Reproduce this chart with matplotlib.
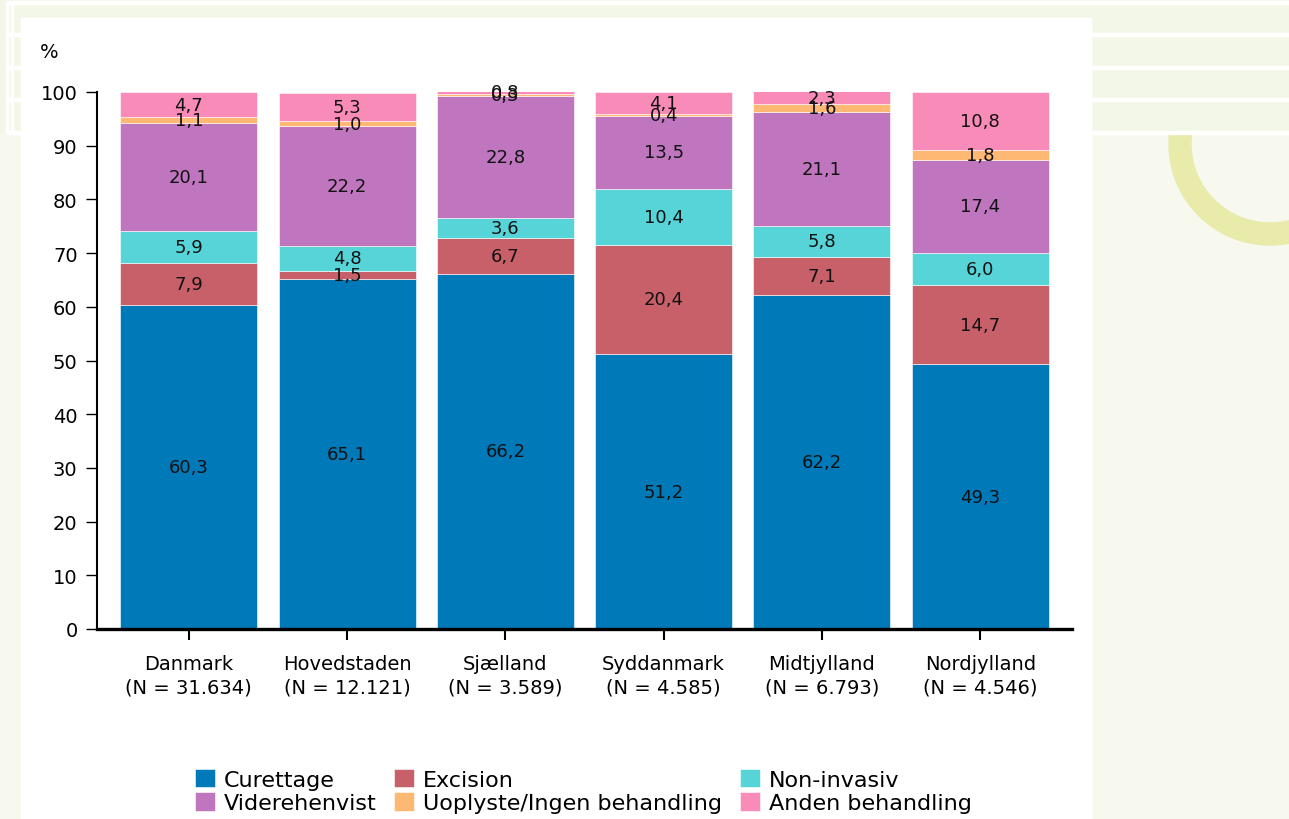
import matplotlib
matplotlib.use("Agg")
import matplotlib.pyplot as plt
import matplotlib.transforms as mtransforms
from matplotlib.patches import Rectangle, Wedge

W, H = 1289, 820

regions = ["Danmark\n(N = 31.634)", "Hovedstaden\n(N = 12.121)", "Sjælland\n(N = 3.589)",
           "Syddanmark\n(N = 4.585)", "Midtjylland\n(N = 6.793)", "Nordjylland\n(N = 4.546)"]

curettage = [60.3, 65.1, 66.2, 51.2, 62.2, 49.3]
excision = [7.9, 1.5, 6.7, 20.4, 7.1, 14.7]
non_invasiv = [5.9, 4.8, 3.6, 10.4, 5.8, 6.0]
viderehenvist = [20.1, 22.2, 22.8, 13.5, 21.1, 17.4]
uoplyste = [1.1, 1.0, 0.3, 0.4, 1.6, 1.8]
anden = [4.7, 5.3, 0.8, 4.1, 2.3, 10.8]

series = [
    ("Curettage", curettage, "#0079b9"),
    ("Excision", excision, "#c8606a"),
    ("Non-invasiv", non_invasiv, "#56d4d8"),
    ("Viderehenvist", viderehenvist, "#c076be"),
    ("Uoplyste/Ingen behandling", uoplyste, "#fdb874"),
    ("Anden behandling", anden, "#f98bb9"),
]

fig = plt.figure(figsize=(W / 100, H / 100), dpi=100, facecolor="#f8f9ee")

# pixel coordinates, y downwards, for the page background
px = mtransforms.Affine2D().scale(1 / W, -1 / H).translate(0, 1) + fig.transFigure

fig.patches.append(Wedge((1270, 145), 101, 0, 360, width=22, color="#e9ebaa",
                         transform=px, zorder=-12))
fig.patches.append(Rectangle((0, 0), W, 133, color="#f3f7e7", transform=px, zorder=-11))
for y in [3, 35, 68, 100, 133]:
    fig.patches.append(Rectangle((7, y - 1.5), W, 3, color="white", transform=px, zorder=-10))
for x in [7, 12]:
    fig.patches.append(Rectangle((x - 1, 3), 2, 130, color="white", transform=px, zorder=-10))
fig.patches.append(Rectangle((21, 19), 1070, 801, color="white", transform=px, zorder=-9))

ax = fig.add_axes([97 / W, 1 - 630 / H, (1072 - 97) / W, (630 - 93) / H])
ax.set_facecolor("none")

xs = list(range(len(regions)))
bottom = [0.0] * len(regions)
handles = {}
for name, vals, col in series:
    bars = ax.bar(xs, vals, width=0.865, bottom=bottom, color=col,
                  edgecolor="#ffffff", linewidth=0.4, label=name)
    handles[name] = bars
    for i, v in enumerate(vals):
        ax.text(xs[i], bottom[i] + v / 2, f"{v:.1f}".replace(".", ","),
                ha="center", va="center", fontsize=13, color="#111111")
    bottom = [b + v for b, v in zip(bottom, vals)]

ax.set_xlim(-0.58, 5.58)
ax.set_ylim(0, 100)
ax.set_yticks(range(0, 101, 10))
ax.set_xticks(xs)
ax.set_xticklabels(regions, fontsize=14, linespacing=1.3)
ax.tick_params(axis="y", labelsize=14, length=8, width=1, pad=6)
ax.tick_params(axis="x", length=8, width=1.5, pad=10)
for s in ["top", "right"]:
    ax.spines[s].set_visible(False)
ax.spines["left"].set_linewidth(1.5)
ax.spines["bottom"].set_linewidth(2.4)

fig.text(40 / W, 1 - 52 / H, "%", fontsize=14, ha="left", va="center")

order = ["Curettage", "Viderehenvist", "Excision", "Uoplyste/Ingen behandling",
         "Non-invasiv", "Anden behandling"]
fig.legend([handles[n] for n in order], order, ncol=3, loc="center left",
           bbox_to_anchor=(195 / W, 1 - 792 / H), frameon=False, fontsize=16,
           borderpad=0, borderaxespad=0, handlelength=0.9, handleheight=0.9,
           handletextpad=0.4, columnspacing=0.8, labelspacing=0.1)

fig.savefig("out.png", dpi=100, facecolor=fig.get_facecolor())
